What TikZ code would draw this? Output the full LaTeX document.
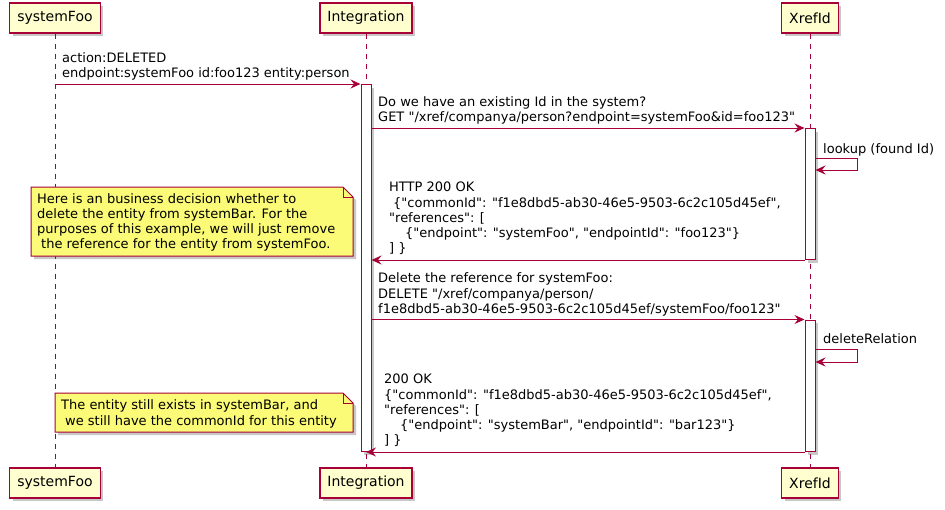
\documentclass[tikz,border=0pt]{standalone}
\usepackage{fontspec}
\setmainfont{DejaVu Sans}[Ligatures=TeXOff]
\usepackage{tikz}
\usetikzlibrary{arrows.meta,shadows}
\definecolor{UmlBorder}{HTML}{A80036}
\definecolor{UmlBox}{HTML}{FEFECE}
\definecolor{UmlNote}{HTML}{FBFB77}

\begin{document}
\begin{tikzpicture}[x=1pt,y=-1pt,
    boxshadow/.style={drop shadow={shadow xshift=3pt,shadow yshift=-3pt,opacity=.3,fill=black!70}},
    participant/.style={draw=UmlBorder,fill=UmlBox,line width=1.2pt,inner xsep=7.5pt,
      minimum height=30pt,font=\fontsize{14}{16}\selectfont,boxshadow},
    lifeline/.style={draw=UmlBorder,line width=.8pt,dash pattern=on 5pt off 5pt},
    activation/.style={draw=UmlBorder,fill=white,line width=1pt,minimum width=10pt,
      inner sep=0pt,anchor=north,boxshadow},
    msg/.style={draw=UmlBorder,line width=1pt,-{Stealth[length=10pt,width=9pt,inset=3.5pt]}},
    msgtext/.style={anchor=north west,inner sep=0pt,align=left,font=\fontsize{13}{15.2}\selectfont},
    notebox/.style={draw=UmlBorder,fill=UmlNote,line width=1pt}
  ]
  \path[use as bounding box,fill=white] (0,0) rectangle (945,509);

  \node[participant] (fooTop) at (55,18) {systemFoo};
  \node[participant] (intTop) at (366,18) {Integration};
  \node[participant] (xrefTop) at (810,18) {XrefId};
  \node[participant] (fooBot) at (55,483) {systemFoo};
  \node[participant] (intBot) at (366,483) {Integration};
  \node[participant] (xrefBot) at (810,483) {XrefId};

  \draw[lifeline] (fooTop) -- (fooBot);
  \draw[lifeline] (intTop) -- (intBot);
  \draw[lifeline] (xrefTop) -- (xrefBot);

  \node[activation,minimum height=367pt] (intAct) at (366,84) {};
  \node[activation,minimum height=131pt] (xrefActA) at (810,128) {};
  \node[activation,minimum height=131.5pt] (xrefActB) at (810,319.5) {};

  \draw[msg] (fooTop |- intAct.north) -- (intAct.north west);
  \node[msgtext] (m1Text) at (62,51.7) {\strut action:DELETED\\endpoint:systemFoo id:foo123 entity:person};

  \draw[msg] (intAct.east |- xrefActA.north) -- (xrefActA.north west);
  \node[msgtext] (m2Text) at (378,95.7) {\strut Do we have an existing Id in the system?\\GET "/xref/companya/person?endpoint=systemFoo\&id=foo123"};

  \draw[msg] (xrefActA.east |- 0,158) -- ++(42,0) -- ++(0,12) -- (xrefActA.east |- 0,170);
  \node[msgtext] (lookupText) at (823,142.4) {\strut lookup (found Id)};

  \draw[msg] (xrefActA.south west) -- (intAct.east |- xrefActA.south);
  \node[msgtext] (r1Text) at (389,181.1) {\strut HTTP 200 OK\\\hspace{4pt}\{"commonId": "f1e8dbd5-ab30-46e5-9503-6c2c105d45ef",\\"references": [\\\hspace{16pt}\{"endpoint": "systemFoo", "endpointId": "foo123"\}\\] \}};

  \draw[notebox,boxshadow] (31,187) -- (343,187) -- (353,197) -- (353,256) -- (31,256) -- cycle;
  \draw[UmlBorder,line width=1pt] (343,187) -- (343,197) -- (353,197);
  \node[msgtext] (noteAText) at (37,192.4) {\strut Here is an business decision whether to\\delete the entity from systemBar. For the\\purposes of this example, we will just remove\\\hspace{4pt}the reference for the entity from systemFoo.};

  \draw[msg] (intAct.east |- xrefActB.north) -- (xrefActB.north west);
  \node[msgtext] (m3Text) at (378,272) {\strut Delete the reference for systemFoo:\\DELETE "/xref/companya/person/\\f1e8dbd5-ab30-46e5-9503-6c2c105d45ef/systemFoo/foo123"};

  \draw[msg] (xrefActB.east |- 0,349) -- ++(42,0) -- ++(0,13) -- (xrefActB.east |- 0,362);
  \node[msgtext] (deleteText) at (823,332.4) {\strut deleteRelation};

  \draw[msg] (xrefActB.south west) -- (intAct.south);
  \node[msgtext] (r2Text) at (384,373.1) {\strut 200 OK\\\{"commonId": "f1e8dbd5-ab30-46e5-9503-6c2c105d45ef",\\"references": [\\\hspace{16pt}\{"endpoint": "systemBar", "endpointId": "bar123"\}\\] \}};

  \draw[notebox,boxshadow] (55,393) -- (343,393) -- (353,403) -- (353,432) -- (55,432) -- cycle;
  \draw[UmlBorder,line width=1pt] (343,393) -- (343,403) -- (353,403);
  \node[msgtext] (noteBText) at (61,399) {\strut The entity still exists in systemBar, and\\\hspace{4pt}we still have the commonId for this entity};
\end{tikzpicture}
\end{document}
